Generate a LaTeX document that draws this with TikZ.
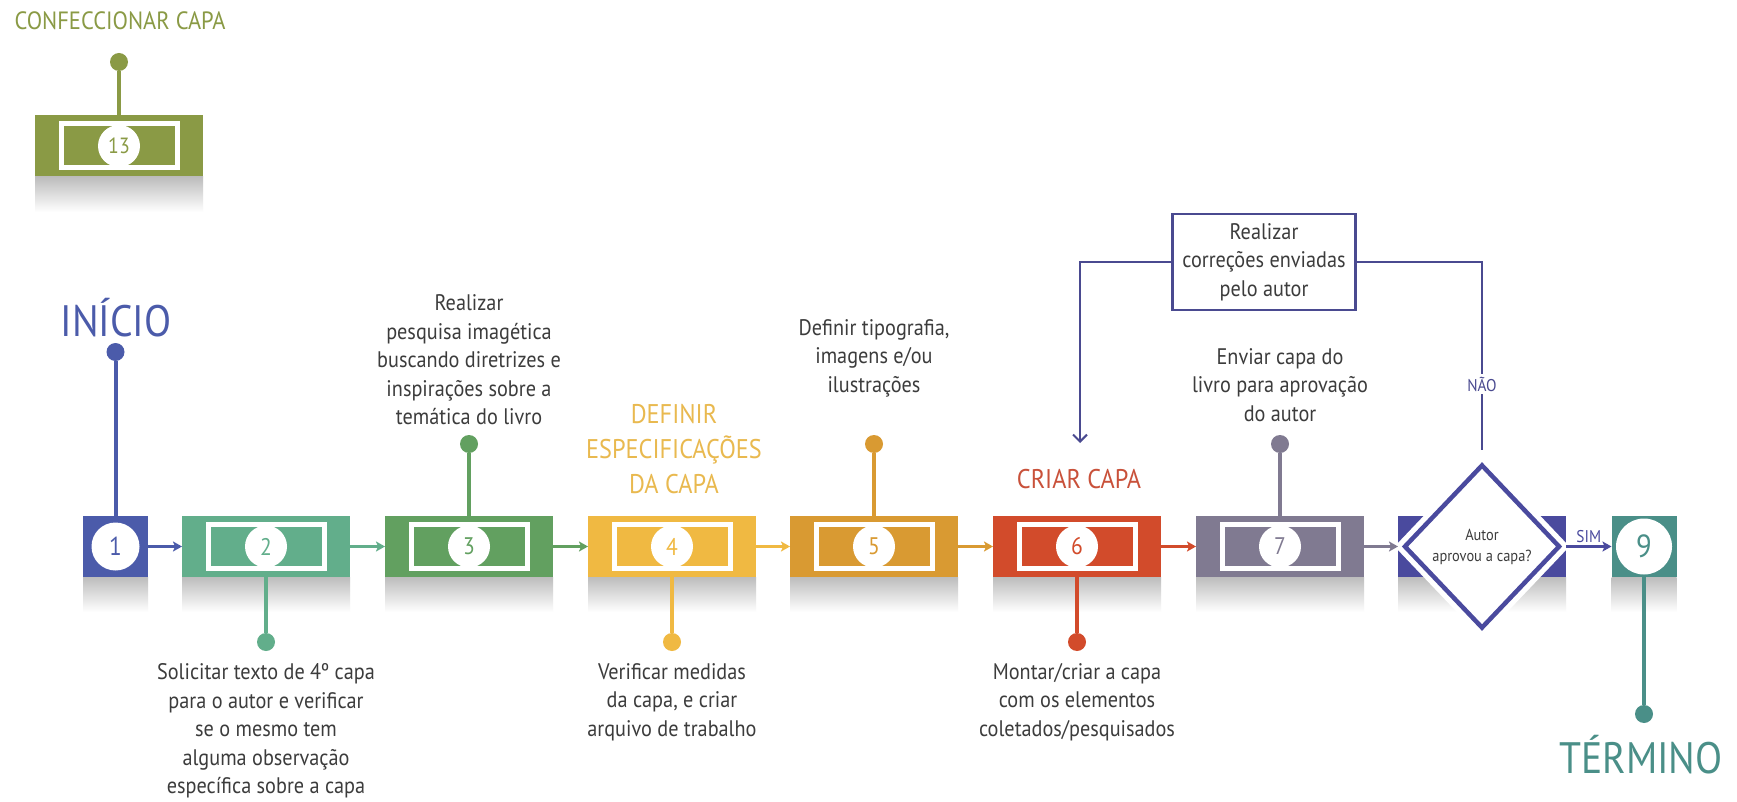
\documentclass[tikz,border=0pt]{standalone}
\usepackage{fontspec}
\setmainfont{PT Sans}[FakeStretch=0.9]
\usetikzlibrary{arrows.meta,shapes.geometric}
\pgfdeclarelayer{paper}
\pgfdeclarelayer{shadow}
\pgfdeclarelayer{bg}
\pgfsetlayers{paper,shadow,bg,main}
\definecolor{cBlue}{HTML}{4B5BAA}
\definecolor{cMint}{HTML}{62AE8B}
\definecolor{cGreen}{HTML}{62A060}
\definecolor{cYellow}{HTML}{F0B942}
\definecolor{cOrange}{HTML}{D99A32}
\definecolor{cRed}{HTML}{D24B2B}
\definecolor{cGray}{HTML}{807A91}
\definecolor{cIndigo}{HTML}{4A4A9E}
\definecolor{cTeal}{HTML}{4A8F88}
\definecolor{cOlive}{HTML}{8A9A45}
\definecolor{cText}{HTML}{3C3C3C}
\definecolor{cLine}{HTML}{4A4A90}
\definecolor{cYellowT}{HTML}{E9B94F}
\definecolor{cRedT}{HTML}{C9513A}
\tikzset{
 box/.style={rectangle,fill=#1,minimum width=168pt,minimum height=61pt,inner sep=0pt,outer sep=0pt},
 sbox/.style={rectangle,fill=#1,minimum width=65pt,minimum height=61pt,inner sep=0pt,outer sep=0pt},
 frame/.style={rectangle,draw=white,line width=5pt,minimum width=116pt,minimum height=44pt,inner sep=0pt},
 num/.style={circle,fill=white,minimum size=42pt,inner sep=0pt,text=#1,font=\fontsize{24}{24}\selectfont},
 dotn/.style={circle,fill=#1,minimum size=18pt,inner sep=0pt,outer sep=0pt},
 note/.style={align=center,text=cText,font=\fontsize{22.5}{28.5}\selectfont,inner sep=0pt},
 biglabel/.style={text=#1,font=\fontsize{44}{44}\selectfont,inner sep=0pt},
 stem/.style={draw=#1,line width=4pt},
 flow/.style={draw=#1,line width=2.5pt,-{Stealth[length=9pt,width=10pt,inset=2pt]}},
 fb/.style={draw=cLine,line width=2pt},
 shadowbar/.style={top color=black!26,bottom color=white},
}
\begin{document}
\begin{tikzpicture}[x=1pt,y=-1pt]
\useasboundingbox (0,0) rectangle (1737,802);
\begin{pgfonlayer}{paper}
\fill[white] (0,0) rectangle (1737,802);
\end{pgfonlayer}

% shadows
\begin{pgfonlayer}{shadow}
\foreach \x/\w in {115.5/32.5,266/84,469/84,672/84,874/84,1077/84,1280/84,1482/84,1644/32.5}
  \shade[shadowbar] (\x-\w,577) rectangle (\x+\w,612);
\shade[shadowbar] (35,177) rectangle (203,212);
\end{pgfonlayer}

% boxes
\node[sbox=cBlue] (b1) at (115.5,546.5) {};
\node[box=cMint] (b2) at (266,546.5) {};
\node[box=cGreen] (b3) at (469,546.5) {};
\node[box=cYellow] (b4) at (672,546.5) {};
\node[box=cOrange] (b5) at (874,546.5) {};
\node[box=cRed] (b6) at (1077,546.5) {};
\node[box=cGray] (b7) at (1280,546.5) {};
\node[box=cIndigo] (bd) at (1482,546.5) {};
\node[sbox=cTeal] (b9) at (1644,546.5) {};
\node[box=cOlive] (b13) at (119,146) {};

% inner frames
\node[frame] (f2) at (b2) {};
\node[frame] (f3) at (b3) {};
\node[frame] (f4) at (b4) {};
\node[frame] (f5) at (b5) {};
\node[frame] (f6) at (b6) {};
\node[frame] (f7) at (b7) {};
\node[frame] (f13) at (b13) {};

% number circles
\node[num=cBlue,minimum size=48pt,font=\fontsize{26}{26}\selectfont] (n1) at (b1) {1};
\node[num=cMint] (n2) at (b2) {2};
\node[num=cGreen] (n3) at (b3) {3};
\node[num=cYellow] (n4) at (b4) {4};
\node[num=cOrange] (n5) at (b5) {5};
\node[num=cRed] (n6) at (b6) {6};
\node[num=cGray] (n7) at (b7) {7};
\node[num=cTeal,minimum size=56pt,font=\fontsize{32}{32}\selectfont] (n9) at (b9) {9};
\node[num=cOlive,font=\fontsize{22}{22}\selectfont] (n13) at (b13) {13};

% decision diamond
\node[diamond,draw=cIndigo,line width=4.5pt,fill=white,minimum width=156pt,minimum height=164pt,inner sep=0pt,
      preaction={draw=white,line width=15pt},align=center,text=cText,
      font=\fontsize{16}{21}\selectfont] (dm) at (1482,546.5) {Autor\\aprovou a capa?};

% dots
\node[dotn=cBlue] (d1) at (115.5,352) {};
\node[dotn=cMint] (d2) at (266,642) {};
\node[dotn=cGreen] (d3) at (469,444) {};
\node[dotn=cYellow] (d4) at (672,642) {};
\node[dotn=cOrange] (d5) at (874,444) {};
\node[dotn=cRed] (d6) at (1077,642) {};
\node[dotn=cGray] (d7) at (1280,444) {};
\node[dotn=cTeal] (d9) at (1644,714) {};
\node[dotn=cOlive] (d13) at (119,62) {};

% stems
\begin{pgfonlayer}{bg}
\draw[stem=cBlue] (b1.north) -- (d1);
\draw[stem=cMint] (b2.south) -- (d2);
\draw[stem=cGreen] (b3.north) -- (d3);
\draw[stem=cYellow] (b4.south) -- (d4);
\draw[stem=cOrange] (b5.north) -- (d5);
\draw[stem=cRed] (b6.south) -- (d6);
\draw[stem=cGray] (b7.north) -- (d7);
\draw[stem=cTeal] (b9.south) -- (d9);
\draw[stem=cOlive] (b13.north) -- (d13);
\end{pgfonlayer}

% big labels
\node[biglabel=cBlue] (lstart) at (116,318) {INÍCIO};
\node[biglabel=cTeal] (lend) at (1641,755) {TÉRMINO};
\node[text=cOlive,font=\fontsize{25}{25}\selectfont,inner sep=0pt] (l13) at (120,21) {CONFECCIONAR CAPA};
\node[text=cYellowT,font=\fontsize{27}{35}\selectfont,align=center,inner sep=0pt] (l4) at (674,449) {DEFINIR\\ESPECIFICAÇÕES\\DA CAPA};
\node[text=cRedT,font=\fontsize{27}{27}\selectfont,inner sep=0pt] (l6) at (1079,479) {CRIAR CAPA};

% notes
\node[note] (t3) at (469,360) {Realizar\\pesquisa imagética\\buscando diretrizes e\\inspirações sobre a\\temática do livro};
\node[note] (t5) at (874,358) {Definir tipografia,\\imagens e/ou\\ilustrações};
\node[note] (t7) at (1280,385) {Enviar capa do\\livro para aprovação\\do autor};
\node[note] (t2) at (266,731) {Solicitar texto de 4º capa\\para o autor e verificar\\se o mesmo tem\\alguma observação\\específica sobre a capa};
\node[note] (t4) at (672,702) {Verificar medidas\\da capa, e criar\\arquivo de trabalho};
\node[note] (t6) at (1077,702) {Montar/criar a capa\\com os elementos\\coletados/pesquisados};

% feedback box
\node[note,draw=cLine,line width=2.5pt,minimum width=183pt,minimum height=96pt] (tf) at (1264,262) {Realizar\\correções enviadas\\pelo autor};
\coordinate (fbend) at (1080,443);
\draw[fb,-{Straight Barb[length=7pt,width=14pt]}] (tf.west) -| (fbend);
\draw[fb,shorten >=12pt] (tf.east) -| (dm.north);
\node[fill=white,text=cLine,font=\fontsize{17}{17}\selectfont,inner sep=3pt] (nao) at (1482,384) {NÃO};

% flow arrows
\draw[flow=cBlue] (b1.east) -- (b2.west);
\draw[flow=cMint] (b2.east) -- (b3.west);
\draw[flow=cGreen] (b3.east) -- (b4.west);
\draw[flow=cYellow] (b4.east) -- (b5.west);
\draw[flow=cOrange] (b5.east) -- (b6.west);
\draw[flow=cRed] (b6.east) -- (b7.west);
\draw[flow=cGray] (b7.east) -- (bd.west);
\draw[flow=cIndigo] (bd.east) -- node[above=2pt,text=cIndigo,font=\fontsize{17}{17}\selectfont,inner sep=1pt] (sim) {SIM} (b9.west);
\end{tikzpicture}
\end{document}
